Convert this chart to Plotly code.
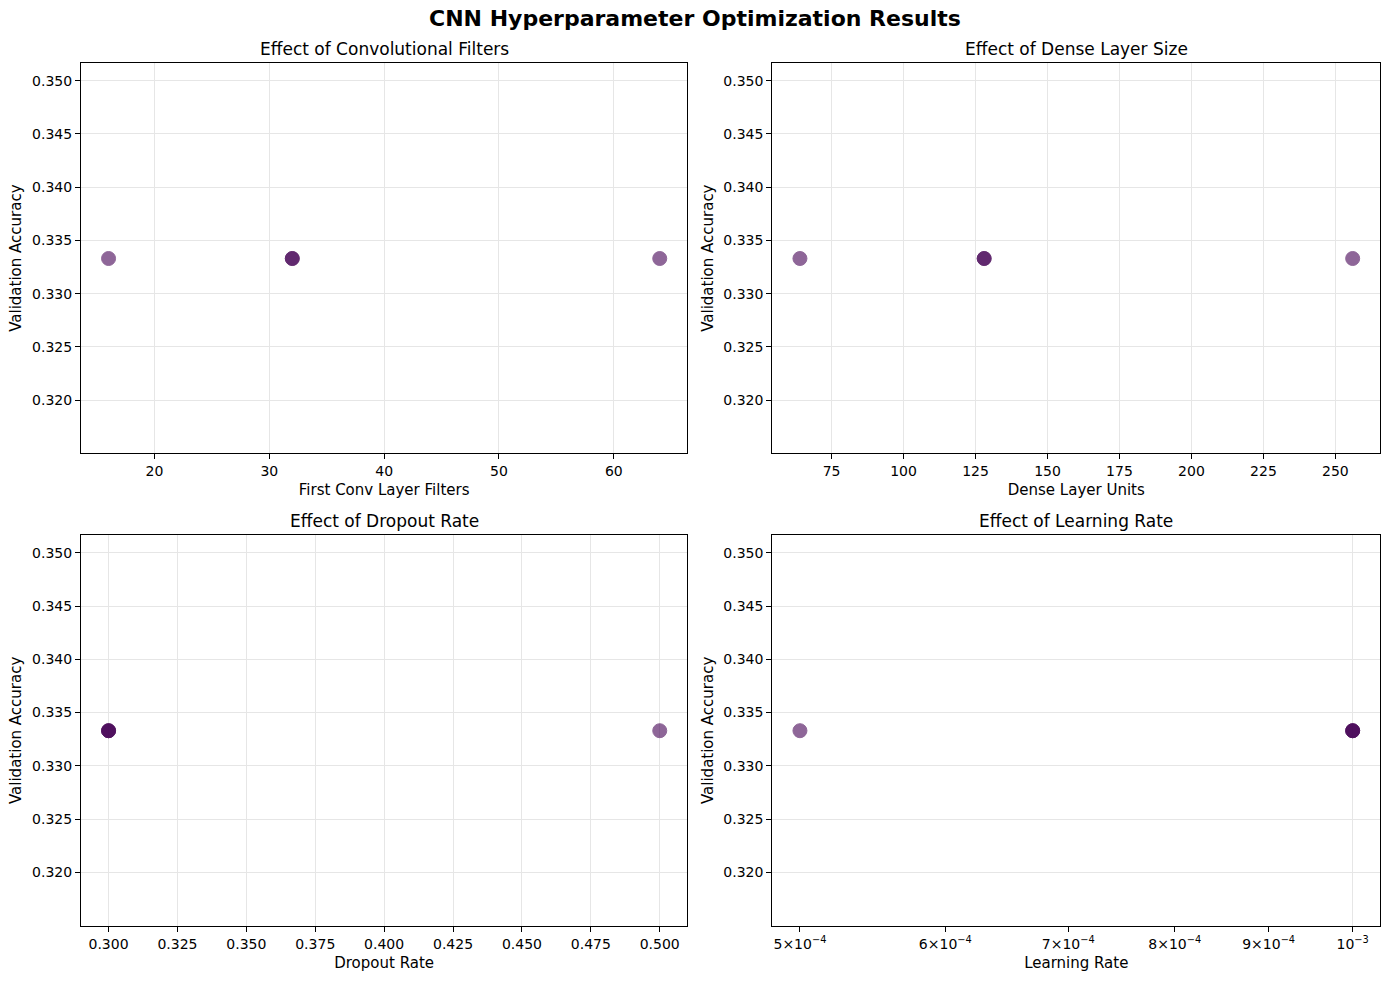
import math
import plotly.graph_objects as go

# ---- data ----
conv_filters = [32, 16, 64, 32]
dense_units = [128, 64, 256, 128]
dropout_rates = [0.3, 0.3, 0.5, 0.3]
learning_rates = [1e-3, 1e-3, 5e-4, 1e-3]
val_accuracy = [0.3333, 0.3333, 0.3333, 0.3333]

subplot_titles = ["Effect of Convolutional Filters", "Effect of Dense Layer Size",
                  "Effect of Dropout Rate", "Effect of Learning Rate"]
x_labels = ["First Conv Layer Filters", "Dense Layer Units", "Dropout Rate", "Learning Rate"]
y_label = "Validation Accuracy"
main_title = "CNN Hyperparameter Optimization Results"

y_ticks = [0.320, 0.325, 0.330, 0.335, 0.340, 0.345, 0.350]
conv_ticks = [20, 30, 40, 50, 60]
dense_ticks = [75, 100, 125, 150, 175, 200, 225, 250]
dropout_ticks = [0.300, 0.325, 0.350, 0.375, 0.400, 0.425, 0.450, 0.475, 0.500]
lr_ticks = [5e-4, 6e-4, 7e-4, 8e-4, 9e-4, 1e-3]
lr_ticktext = ["5×10<sup>−4</sup>", "6×10<sup>−4</sup>", "7×10<sup>−4</sup>",
               "8×10<sup>−4</sup>", "9×10<sup>−4</sup>", "10<sup>−3</sup>"]

W, H = 1389, 985
FONT = "DejaVu Sans"
GRID = "#e6e6e6"
PURPLE = "#440154"

# axis boxes in pixels (left, right, top, bottom)
boxes = [(81, 687.3, 63, 453.3), (772.3, 1380.3, 63, 453.3),
         (81, 687.3, 535, 925.7), (772.3, 1380.3, 535, 925.7)]

fig = go.Figure()
xs_all = [conv_filters, dense_units, dropout_rates, learning_rates]

for i, xs in enumerate(xs_all):
    sfx = "" if i == 0 else str(i + 1)
    fig.add_trace(go.Scatter(
        x=xs, y=val_accuracy, mode="markers",
        xaxis="x" + sfx, yaxis="y" + sfx,
        marker=dict(size=14, color=PURPLE, opacity=0.6,
                    line=dict(color=PURPLE, width=1)),
        showlegend=False, hoverinfo="x+y"))


def xr_lin(vals):
    lo, hi = min(vals), max(vals)
    m = (hi - lo) * 0.05
    return [lo - m, hi + m]


lo_l, hi_l = math.log10(min(learning_rates)), math.log10(max(learning_rates))
m_l = (hi_l - lo_l) * 0.05

x_ranges = [xr_lin(conv_filters), xr_lin(dense_units), xr_lin(dropout_rates),
            [lo_l - m_l, hi_l + m_l]]
x_tickvals = [conv_ticks, dense_ticks, dropout_ticks, lr_ticks]
x_ticktext = [[str(t) for t in conv_ticks], [str(t) for t in dense_ticks],
              ["%.3f" % t for t in dropout_ticks], lr_ticktext]

tickfont = dict(family=FONT, size=14, color="black")
labfont = dict(family=FONT, size=15, color="black")
layout = dict(width=W, height=H, margin=dict(l=0, r=0, t=0, b=0),
              paper_bgcolor="white", plot_bgcolor="white",
              font=dict(family=FONT, size=14, color="black"))
annotations = []

for i in range(4):
    sfx = "" if i == 0 else str(i + 1)
    l, r, t, b = boxes[i]
    xd = [l / W, r / W]
    yd = [1 - b / H, 1 - t / H]
    xa = dict(domain=xd, anchor="y" + sfx, range=x_ranges[i],
              tickmode="array", tickvals=x_tickvals[i], ticktext=x_ticktext[i],
              ticks="outside", ticklen=5, tickwidth=1.1, tickcolor="black",
              showline=True, mirror=True, linecolor="black", linewidth=1.1,
              showgrid=True, gridcolor=GRID, gridwidth=1.1, zeroline=False,
              tickfont=tickfont,
              title=dict(text=x_labels[i], font=labfont, standoff=6))
    if i == 3:
        xa["type"] = "log"
        xa["showgrid"] = False
        xa["minor"] = dict(tickmode="array", tickvals=[1e-3], showgrid=True,
                           gridcolor=GRID, gridwidth=1.1, ticklen=0)
    ya = dict(domain=yd, anchor="x" + sfx, range=[0.315, 0.351667],
              tickmode="array", tickvals=y_ticks, ticktext=["%.3f" % v for v in y_ticks],
              ticks="outside", ticklen=5, tickwidth=1.1, tickcolor="black",
              showline=True, mirror=True, linecolor="black", linewidth=1.1,
              showgrid=True, gridcolor=GRID, gridwidth=1.1, zeroline=False,
              tickfont=tickfont,
              title=dict(text=y_label, font=labfont, standoff=6))
    layout["xaxis" + sfx] = xa
    layout["yaxis" + sfx] = ya
    annotations.append(dict(text=subplot_titles[i], xref="paper", yref="paper",
                            x=(xd[0] + xd[1]) / 2, y=yd[1], yshift=2,
                            xanchor="center", yanchor="bottom", showarrow=False,
                            font=dict(family=FONT, size=17, color="black")))

annotations.append(dict(text="<b>" + main_title + "</b>", xref="paper", yref="paper",
                        x=0.5, y=1 - 18 / H, xanchor="center", yanchor="middle",
                        showarrow=False, font=dict(family=FONT, size=22, color="black")))
layout["annotations"] = annotations
fig.update_layout(**layout)
fig.write_html("out.html", config={"displayModeBar": False},
               post_script="document.body.style.margin='0';document.body.style.padding='0';")
